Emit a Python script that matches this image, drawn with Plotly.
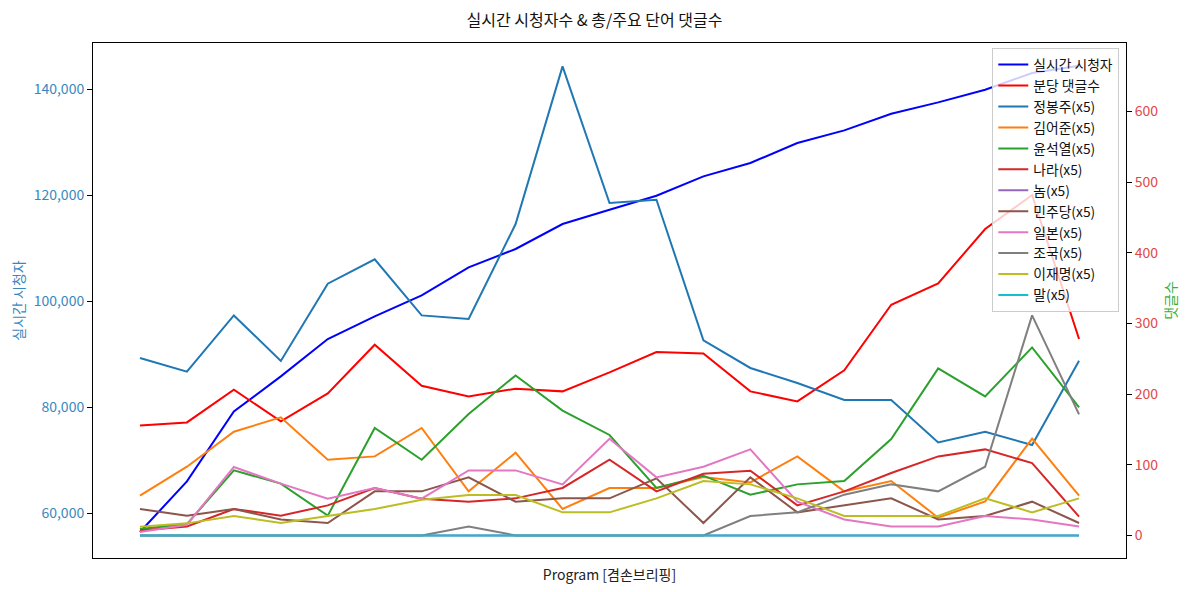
import plotly.graph_objects as go

# segment index along the program (no tick labels shown)
segments = list(range(21))

viewers = [56494, 66032, 79227, 85825, 92874, 97135, 101094, 106371, 109839, 114552,
           117250, 119888, 123524, 126051, 129820, 132195, 135344, 137474, 139866, 143015, 144392]
comments_per_min = [155.6, 159.9, 206.2, 161.3, 200.9, 269.8, 211.8, 196.7, 207.6, 203.8,
                    230.6, 259.5, 257.5, 203.8, 189.6, 233.5, 326.4, 356.5, 433.6, 481.7, 277.9]

kw_jbj = [251.0, 231.6, 311.3, 246.8, 356.2, 390.6, 311.3, 306.2, 440.6, 663.7,
          470.4, 475.0, 275.9, 236.9, 215.6, 191.6, 191.6, 131.6, 146.7, 127.9, 247.2]
kw_kej = [56.2, 97.2, 146.7, 167.0, 107.1, 111.8, 152.0, 62.3, 117.0, 37.4,
          67.1, 67.1, 82.6, 75.0, 111.8, 62.3, 77.0, 25.0, 48.1, 136.8, 56.2]
kw_ysy = [9.0, 16.0, 92.0, 73.2, 27.9, 152.0, 107.1, 171.8, 226.4, 176.5,
          142.1, 67.1, 84.5, 57.6, 72.2, 77.0, 136.4, 236.3, 196.7, 266.0, 181.1]
kw_nara = [7.0, 12.7, 37.4, 27.9, 42.5, 67.1, 51.9, 47.7, 52.4, 67.1,
           107.1, 62.3, 87.3, 91.6, 42.5, 62.3, 88.3, 111.8, 121.7, 102.4, 26.5]
kw_nom = [0] * 21
kw_mjd = [37.4, 27.9, 37.4, 22.6, 17.5, 62.3, 62.3, 82.1, 47.7, 52.4,
          52.4, 80.7, 17.5, 82.1, 32.6, 42.5, 52.4, 22.6, 27.4, 47.7, 17.5]
kw_japan = [4.8, 15.1, 96.8, 73.2, 51.9, 67.1, 51.9, 92.0, 92.0, 72.2,
            136.8, 82.1, 97.2, 121.7, 47.7, 22.6, 12.7, 12.7, 27.4, 22.6, 12.7]
kw_jog = [0, 0, 0, 0, 0, 0, 0, 12.7, 0, 0,
          0, 0, 0, 27.4, 32.6, 57.6, 72.2, 62.3, 97.2, 311.3, 171.3]
kw_ljm = [12.3, 17.0, 27.4, 17.5, 27.4, 37.4, 50.5, 57.2, 57.2, 32.6,
          32.6, 52.4, 77.0, 72.2, 52.4, 27.4, 27.4, 27.4, 52.4, 32.6, 52.4]
kw_mal = [0] * 21

keyword_names = ["정봉주(x5)", "김어준(x5)", "윤석열(x5)", "나라(x5)", "놈(x5)", "민주당(x5)",
                 "일본(x5)", "조국(x5)", "이재명(x5)", "말(x5)"]
keyword_series = [kw_jbj, kw_kej, kw_ysy, kw_nara, kw_nom, kw_mjd, kw_japan, kw_jog, kw_ljm, kw_mal]
keyword_colors = ["#1f77b4", "#ff7f0e", "#2ca02c", "#d62728", "#9467bd", "#8c564b",
                  "#e377c2", "#7f7f7f", "#bcbd22", "#17becf"]

FONT = "Noto Sans CJK KR"

# page has 8px body margin -> figure is offset by 8px; size figure to fit the window
W, H = 1173, 576

fig = go.Figure()
fig.add_trace(go.Scatter(x=segments, y=viewers, mode="lines", name="실시간 시청자",
                         line=dict(color="#0000ff", width=2), yaxis="y"))
fig.add_trace(go.Scatter(x=segments, y=comments_per_min, mode="lines", name="분당 댓글수",
                         line=dict(color="#ff0000", width=2), yaxis="y2"))
for name, vals, col in zip(keyword_names, keyword_series, keyword_colors):
    fig.add_trace(go.Scatter(x=segments, y=vals, mode="lines", name=name,
                             line=dict(color=col, width=2), yaxis="y2"))

fig.update_layout(
    width=W, height=H,
    margin=dict(l=85, r=55, t=35, b=26, autoexpand=False),
    paper_bgcolor="white", plot_bgcolor="white",
    font=dict(family=FONT, size=14, color="#222"),
    title=dict(text="실시간 시청자수 & 총/주요 단어 댓글수", x=0.5, xanchor="center",
               y=1 - 12 / H, yanchor="middle", font=dict(size=16, color="#111")),
    xaxis=dict(range=[-1, 21], showticklabels=False, ticks="", showgrid=False, zeroline=False,
               showline=True, linecolor="black", linewidth=1, mirror=True, automargin=False,
               title=dict(text="Program [겸손브리핑]", standoff=13, font=dict(size=14, color="#222"))),
    yaxis=dict(range=[51593, 148671], tickvals=[60000, 80000, 100000, 120000, 140000],
               tickformat=",d", showgrid=False, zeroline=False, automargin=False,
               showline=True, linecolor="black", linewidth=1,
               ticks="outside", ticklen=5, tickcolor="black",
               tickfont=dict(color="#3a87c0", size=14),
               title=dict(text="실시간 시청자", font=dict(color="#3a87c0", size=14), standoff=11)),
    yaxis2=dict(range=[-32.0, 696.8], tickvals=[0, 100, 200, 300, 400, 500, 600],
                overlaying="y", side="right", showgrid=False, zeroline=False, automargin=False,
                showline=True, linecolor="black", linewidth=1,
                ticks="outside", ticklen=5, tickcolor="black",
                tickfont=dict(color="#e04848", size=14),
                title=dict(text="댓글수", font=dict(color="#3aae3a", size=14), standoff=8)),
    legend=dict(x=0.9935, xanchor="right", y=0.99, yanchor="top",
                bgcolor="rgba(255,255,255,0.8)", bordercolor="#cccccc", borderwidth=1,
                font=dict(size=13.8, color="#111"), tracegroupgap=0, itemwidth=30),
    showlegend=True,
)

fig.write_html("out.html")
